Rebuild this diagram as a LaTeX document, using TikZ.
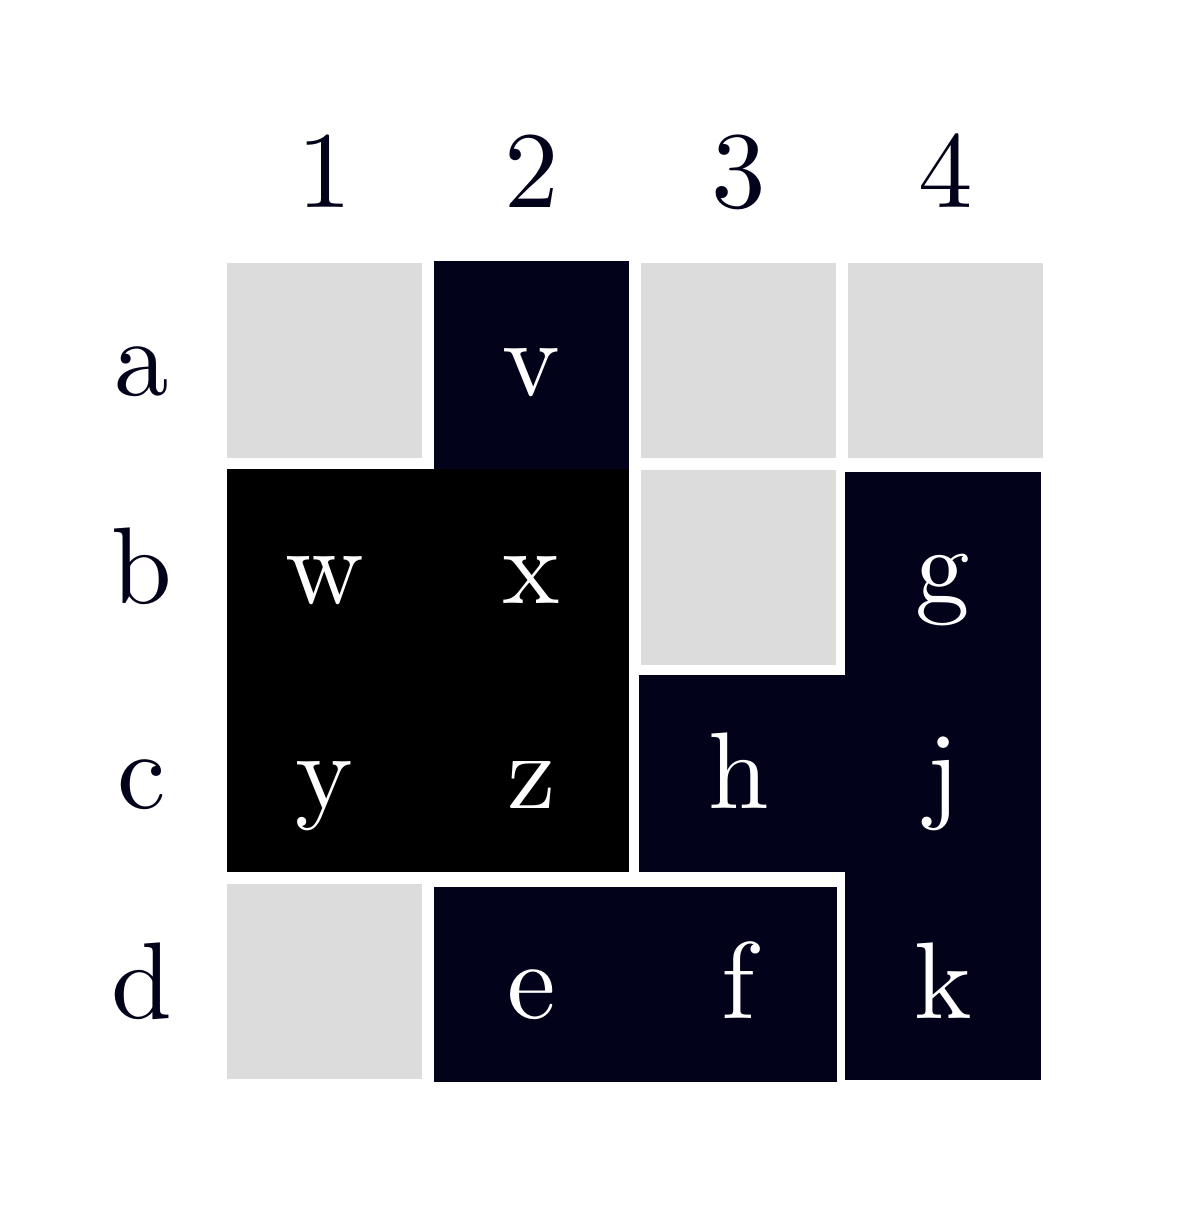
\documentclass[tikz,border=0pt]{standalone}
\usepackage{tikz}
\usepackage{fontspec}
\newfontfamily\gridfont{lmroman10-regular.otf}
\definecolor{ink}{HTML}{02021A}
\definecolor{cellgray}{HTML}{DCDCDC}

\begin{document}
\begin{tikzpicture}[x=0.01cm,y=-0.01cm]
\tikzset{cell/.style = {fill=cellgray,inner sep=0,outer sep=0,minimum width=1.95cm,minimum height=1.95cm}}
\tikzset{piece/.style = {fill=ink,inner sep=0,outer sep=0}}
\tikzset{letter/.style = {text=white,anchor=base,inner sep=0,font=\gridfont\fontsize{31}{37}\selectfont}}
\tikzset{heading/.style = {text=ink,anchor=base,inner sep=0,font=\gridfont\fontsize{31}{37}\selectfont}}

\useasboundingbox (0,0) rectangle (1200,1215);

% headings

\node[heading] (col1) at (324.5,207) {1};
\node[heading] (col2) at (531.5,207) {2};
\node[heading] (col3) at (738.5,207) {3};
\node[heading] (col4) at (945.5,207) {4};

\node[heading] (rowa) at (142,395.5) {a};
\node[heading] (rowb) at (142,603) {b};
\node[heading] (rowc) at (142,808) {c};
\node[heading] (rowd) at (142,1018) {d};

% empty cells

\node[cell] (a1) at (324.5,360.5) {};
\node[cell] (a3) at (738.5,360.5) {};
\node[cell] (a4) at (945.5,360.5) {};
\node[cell] (b3) at (738.5,567.5) {};
\node[cell] (d1) at (324.5,981.5) {};

% pieces

\node[piece,minimum width=1.95cm,minimum height=2.09cm] (pv) at (531.5,365.5) {};
\node[piece,fill=black,minimum width=4.02cm,minimum height=4.03cm] (pwxyz) at (428,670.5) {};
\node[piece,minimum width=2.06cm,minimum height=1.97cm] (ph) at (742,773.5) {};
\node[piece,minimum width=1.96cm,minimum height=6.08cm] (pgjk) at (943,776) {};
\node[piece,minimum width=4.03cm,minimum height=1.95cm] (pef) at (635.5,984.5) {};

% letters

\node[letter] (v) at (531.5,395.5) {v};
\node[letter] (w) at (324.5,603) {w};
\node[letter] (x) at (531.5,603) {x};
\node[letter] (g) at (943,603) {g};
\node[letter] (y) at (324.5,808) {y};
\node[letter] (z) at (531.5,808) {z};
\node[letter] (h) at (738.5,808) {h};
\node[letter] (j) at (943,808) {j};
\node[letter] (e) at (531.5,1018) {e};
\node[letter] (f) at (738.5,1018) {f};
\node[letter] (k) at (943,1018) {k};
\end{tikzpicture}
\end{document}
